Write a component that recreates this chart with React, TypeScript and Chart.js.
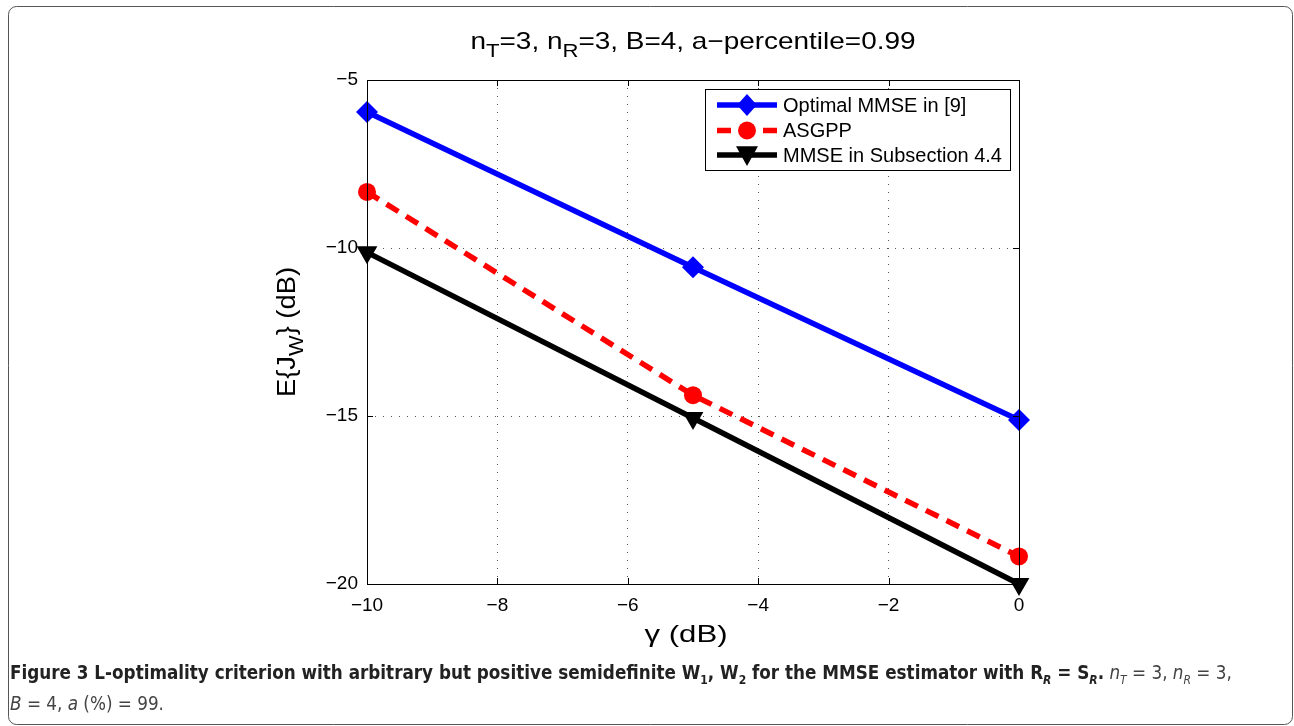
import React, { useEffect, useRef } from "react";
import { Chart, registerables } from "chart.js";

Chart.register(...registerables);

// ---- data ----
const gammaDb = [-10, -5, 0];
const optimalMmse = [-5.95, -10.57, -15.12];
const asgpp = [-8.33, -14.38, -19.18];
const mmseSubsection = [-10.13, -15.06, -20.0];
const seriesNames = ["Optimal MMSE in [9]", "ASGPP", "MMSE in Subsection 4.4"];
const xTickValues = [-10, -8, -6, -4, -2, 0];
const yTickValues = [-20, -15, -10, -5];
const titleParts: [string, boolean][] = [
  ["n", false],
  ["T", true],
  ["=3, n", false],
  ["R", true],
  ["=3, B=4, a\u2212percentile=0.99", false],
];
const yLabelParts: [string, boolean][] = [
  ["E{J", false],
  ["W", true],
  ["} (dB)", false],
];
const xLabelParts: [string, boolean][] = [["\u03B3 (dB)", false]];

const W = 1294;
const H = 726;
const FONT = '"Liberation Sans", Arial, Helvetica, sans-serif';
const fmt = (v: number) => (v < 0 ? "\u2212" + Math.abs(v) : String(v));

function drawParts(
  ctx: CanvasRenderingContext2D,
  parts: [string, boolean][],
  cx: number,
  y: number,
  size: number,
  targetWidth?: number
) {
  const subSize = Math.round(size * 0.8);
  let total = 0;
  const widths = parts.map(([t, sub]) => {
    ctx.font = `${sub ? subSize : size}px ${FONT}`;
    const w = ctx.measureText(t).width;
    total += w;
    return w;
  });
  const sx = targetWidth ? targetWidth / total : 1;
  ctx.save();
  ctx.translate(cx, y);
  ctx.scale(sx, 1);
  let x = -total / 2;
  ctx.textAlign = "left";
  ctx.textBaseline = "alphabetic";
  parts.forEach(([t, sub], i) => {
    ctx.font = `${sub ? subSize : size}px ${FONT}`;
    ctx.fillText(t, x, sub ? size * 0.32 : 0);
    x += widths[i];
  });
  ctx.restore();
}

function drawMarker(
  ctx: CanvasRenderingContext2D,
  style: string,
  x: number,
  y: number,
  r: number,
  color: string
) {
  ctx.save();
  ctx.fillStyle = color;
  ctx.beginPath();
  if (style === "rectRot") {
    ctx.moveTo(x, y - r);
    ctx.lineTo(x + r * 0.9, y);
    ctx.lineTo(x, y + r);
    ctx.lineTo(x - r * 0.9, y);
  } else if (style === "circle") {
    ctx.arc(x, y, r, 0, Math.PI * 2);
  } else {
    ctx.moveTo(x - r, y - r * 0.8);
    ctx.lineTo(x + r, y - r * 0.8);
    ctx.lineTo(x, y + r);
  }
  ctx.closePath();
  ctx.fill();
  ctx.restore();
}

const figurePlugin = {
  id: "figureDecor",
  beforeDraw(chart: any) {
    const ctx: CanvasRenderingContext2D = chart.ctx;
    ctx.save();
    ctx.fillStyle = "#fff";
    ctx.fillRect(0, 0, W, H);
    ctx.strokeStyle = "#555";
    ctx.lineWidth = 1;
    ctx.beginPath();
    (ctx as any).roundRect(8.5, 6.5, 1284, 718, 8);
    ctx.stroke();
    ctx.restore();
  },
  afterDatasetsDraw(chart: any) {
    const ctx: CanvasRenderingContext2D = chart.ctx;
    const a = chart.chartArea;
    const xs = chart.scales.x;
    const ys = chart.scales.y;
    ctx.save();
    // frame
    ctx.strokeStyle = "#000";
    ctx.lineWidth = 1;
    ctx.strokeRect(Math.round(a.left) + 0.5, Math.round(a.top) + 0.5, Math.round(a.right - a.left), Math.round(a.bottom - a.top));
    // inward ticks
    const tl = 6;
    ctx.beginPath();
    xTickValues.forEach((v) => {
      const px = Math.round(xs.getPixelForValue(v)) + 0.5;
      ctx.moveTo(px, a.bottom);
      ctx.lineTo(px, a.bottom - tl);
      ctx.moveTo(px, a.top);
      ctx.lineTo(px, a.top + tl);
    });
    yTickValues.forEach((v) => {
      const py = Math.round(ys.getPixelForValue(v)) + 0.5;
      ctx.moveTo(a.left, py);
      ctx.lineTo(a.left + tl, py);
      ctx.moveTo(a.right, py);
      ctx.lineTo(a.right - tl, py);
    });
    ctx.stroke();

    // title
    ctx.fillStyle = "#000";
    drawParts(ctx, titleParts, (a.left + a.right) / 2, 49, 24, 445);
    // x label
    drawParts(ctx, xLabelParts, 686, 642, 24, 83);
    // y label
    ctx.save();
    ctx.translate(295, (a.top + a.bottom) / 2);
    ctx.rotate(-Math.PI / 2);
    drawParts(ctx, yLabelParts, 0, 0, 25, 130);
    ctx.restore();

    // legend
    const lx = 705, ly = 89, lw = 305, lh = 81;
    ctx.fillStyle = "#fff";
    ctx.fillRect(lx, ly, lw, lh);
    ctx.strokeStyle = "#000";
    ctx.lineWidth = 1;
    ctx.strokeRect(lx + 0.5, ly + 0.5, lw, lh);
    const rows = [105, 130.5, 155];
    chart.data.datasets.forEach((ds: any, i: number) => {
      const y = rows[i];
      ctx.save();
      ctx.strokeStyle = ds.borderColor;
      ctx.lineWidth = ds.borderWidth;
      ctx.setLineDash(ds.borderDash || []);
      ctx.beginPath();
      ctx.moveTo(717, y);
      ctx.lineTo(777, y);
      ctx.stroke();
      ctx.restore();
      drawMarker(ctx, ds.pointStyle, 747, y, ds.pointStyle === "circle" ? 9 : 11, ds.pointBackgroundColor);
      ctx.fillStyle = "#000";
      ctx.font = `20px ${FONT}`;
      ctx.textAlign = "left";
      ctx.textBaseline = "middle";
      ctx.fillText(ds.label, 783, y + 1);
    });
    ctx.restore();
  },
};

export default function App() {
  const ref = useRef<HTMLCanvasElement>(null);
  useEffect(() => {
    const canvas = ref.current!;
    const mk = (ys: number[]) => gammaDb.map((x, i) => ({ x, y: ys[i] }));
    const common = { borderWidth: 5.5, tension: 0, clip: false, pointBorderWidth: 0 };
    const chart = new Chart(canvas, {
      type: "line",
      data: {
        datasets: [
          {
            ...common,
            label: seriesNames[0],
            data: mk(optimalMmse),
            borderColor: "#0000ff",
            backgroundColor: "#0000ff",
            pointStyle: "rectRot",
            pointRadius: 11,
            pointBackgroundColor: "#0000ff",
            pointBorderColor: "#0000ff",
            order: 2,
          } as any,
          {
            ...common,
            label: seriesNames[1],
            data: mk(asgpp),
            borderColor: "#ff0000",
            backgroundColor: "#ff0000",
            borderDash: [14, 9],
            pointStyle: "circle",
            pointRadius: 9,
            pointBackgroundColor: "#ff0000",
            pointBorderColor: "#ff0000",
            order: 1,
          } as any,
          {
            ...common,
            label: seriesNames[2],
            data: mk(mmseSubsection),
            borderColor: "#000000",
            backgroundColor: "#000000",
            pointStyle: "triangle",
            pointRotation: 180,
            pointRadius: 12,
            pointBackgroundColor: "#000000",
            pointBorderColor: "#000000",
            order: 0,
          } as any,
        ],
      },
      options: {
        responsive: false,
        animation: false,
        events: [],
        layout: { padding: { left: 0, top: 80, right: 275, bottom: 0 } },
        plugins: { legend: { display: false }, title: { display: false }, tooltip: { enabled: false } },
        scales: {
          x: {
            type: "linear",
            min: -10,
            max: 0,
            afterFit: (s: any) => {
              s.height = 142;
            },
            afterBuildTicks: (s: any) => {
              s.ticks = xTickValues.map((v) => ({ value: v }));
            },
            ticks: {
              callback: (v: any) => fmt(Number(v)),
              color: "#000",
              font: { family: FONT, size: 19 },
              padding: 10,
              maxRotation: 0,
              autoSkip: false,
            },
            grid: { color: "#555", lineWidth: 1, drawTicks: false },
            border: { display: false, dash: [1, 7] },
          },
          y: {
            type: "linear",
            min: -20,
            max: -5,
            afterFit: (s: any) => {
              s.width = 367;
            },
            afterBuildTicks: (s: any) => {
              s.ticks = yTickValues.map((v) => ({ value: v }));
            },
            ticks: {
              callback: (v: any) => fmt(Number(v)),
              color: "#000",
              font: { family: FONT, size: 19 },
              padding: 9,
              autoSkip: false,
            },
            grid: { color: "#555", lineWidth: 1, drawTicks: false },
            border: { display: false, dash: [1, 7] },
          },
        },
      },
      plugins: [figurePlugin],
    } as any);
    return () => chart.destroy();
  }, []);

  const capFont = '"Liberation Sans Narrow", "DejaVu Sans Condensed", "Liberation Sans", sans-serif';
  const subStyle = { fontSize: 12, lineHeight: 0 };
  return (
    <div style={{ position: "fixed", left: 0, top: 0, width: W, height: H, background: "#fff" }}>
      <canvas ref={ref} width={W} height={H} style={{ position: "absolute", left: 0, top: 0, width: W, height: H }} />
      <div
        style={{
          position: "absolute",
          left: 10,
          top: 657,
          width: 1275,
          fontFamily: capFont,
          fontSize: 18.7,
          lineHeight: "31px",
          color: "#222",
        }}
      >
        <b>
          Figure 3 L-optimality criterion with arbitrary but positive semidefinite W<sub style={subStyle}>1</sub>, W
          <sub style={subStyle}>2</sub> for the MMSE estimator with R<sub style={{ ...subStyle, fontStyle: "italic" }}>R</sub> = S
          <sub style={{ ...subStyle, fontStyle: "italic" }}>R</sub>.
        </b>{" "}
        <span style={{ color: "#444" }}>
          <i>n</i>
          <sub style={subStyle}><i>T</i></sub> = 3, <i>n</i>
          <sub style={subStyle}><i>R</i></sub> = 3,
          <br />
          <i>B</i> = 4, <i>a</i> (%) = 99.
        </span>
      </div>
    </div>
  );
}
